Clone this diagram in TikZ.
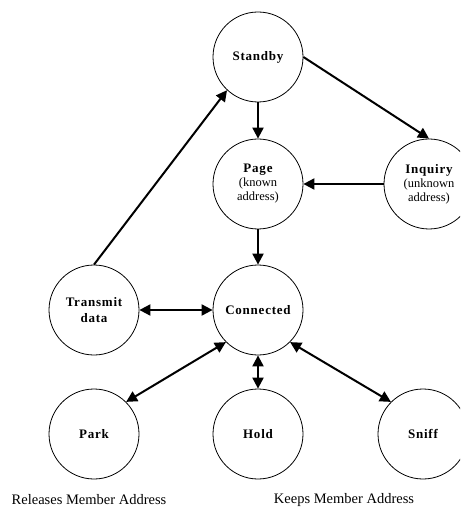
\documentclass[tikz,border=0pt]{standalone}
\usepackage{fontspec}
\setmainfont{Liberation Serif}
\newfontfamily\statefont[LetterSpace=6]{Liberation Serif}
\usetikzlibrary{arrows.meta}
\begin{document}
\begin{tikzpicture}[x=1pt,y=-1pt,
  state/.style={circle, draw, line width=0.8pt, minimum size=90pt, inner sep=0pt,
    align=center, font=\statefont\fontsize{13}{16}\selectfont\bfseries},
  link/.style={line width=2pt, -{Triangle[length=11pt,width=11pt]}},
  both/.style={line width=2pt, {Triangle[length=11pt,width=11pt]}-{Triangle[length=11pt,width=11pt]}},
  note/.style={font=\fontsize{14.5}{16}\selectfont}
]
\clip (0,0) rectangle (460,510);

% states
\newcommand\subline[1]{{\normalfont\fontsize{12.5}{15}\selectfont #1}}
\node[state] (sb)    at (258,57)  {Standby};
\node[state] (page)  at (258,184) {Page\\[-2pt]\subline{(known}\\[-2pt]\subline{address)}};
\node[state] (inq)   at (429,184) {Inquiry\\[-2pt]\subline{(unknown}\\[-2pt]\subline{address)}};
\node[state] (con)   at (258,310) {Connected};
\node[state] (td)    at (94,310)  {Transmit\\data};
\node[state] (park)  at (94,434)  {Park};
\node[state] (hold)  at (258,434) {Hold};
\node[state] (sniff) at (423,434) {Sniff};

% captions
\node[note] (rel)  at (89,500)  {Releases Member Address};
\node[note] (keep) at (344,500) {Keeps Member Address};

% transitions
\draw[link] (td.north) -- (sb.227);
\draw[link] (sb) -- (page);
\draw[link] (sb.east) -- (inq.north);
\draw[link] (inq) -- (page);
\draw[link] (page) -- (con);
\draw[both] (td) -- (con);
\draw[both] (con.225) -- (park.45);
\draw[both] (con) -- (hold);
\draw[both] (con.315) -- (sniff.135);
\end{tikzpicture}
\end{document}
